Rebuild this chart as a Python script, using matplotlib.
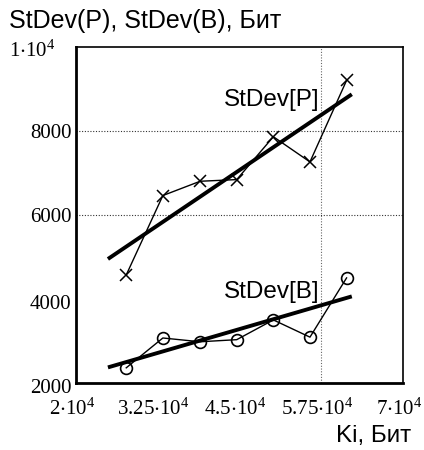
import matplotlib
matplotlib.use("Agg")
import matplotlib.pyplot as plt
from matplotlib.transforms import ScaledTranslation

# data
ki = [27700, 33300, 39000, 44600, 50200, 55800, 61400]
stdev_p = [4570, 6460, 6800, 6840, 7860, 7260, 9200]
stdev_b = [2360, 3070, 2980, 3030, 3500, 3090, 4500]

fit_x = [24900, 62200]
fit_p = [4950, 8870]
fit_b = [2370, 4060]

x_ticks = [20000, 32500, 45000, 57500, 70000]
x_ticklabels = [r"$\mathregular{2{\cdot}10^4}$", r"$\mathregular{3.25{\cdot}10^4}$",
                r"$\mathregular{4.5{\cdot}10^4}$", r"$\mathregular{5.75{\cdot}10^4}$",
                r"$\mathregular{7{\cdot}10^4}$"]
y_ticks = [2000, 4000, 6000, 8000, 10000]
y_ticklabels = ["2000", "4000", "6000", "8000", r"$\mathregular{1{\cdot}10^4}$"]

plt.rcParams["mathtext.fontset"] = "custom"
plt.rcParams["mathtext.rm"] = "Liberation Serif"
plt.rcParams["mathtext.it"] = "Liberation Serif:italic"

fig = plt.figure(figsize=(4.24, 4.5), dpi=100)
ax = fig.add_axes([0.179, 0.149, 0.771, 0.747])

ax.plot(ki, stdev_p, color="black", lw=1.0, marker="x", ms=9, mew=1.1)
ax.plot(ki, stdev_b, color="black", lw=1.0, marker="o", ms=8.5, mew=1.2,
        mfc="none")
ax.plot(fit_x, fit_p, color="black", lw=2.8, solid_capstyle="butt")
ax.plot(fit_x, fit_b, color="black", lw=2.8, solid_capstyle="butt")

# dotted grid lines as in the original
for yv in [6000, 8000]:
    ax.axhline(yv, color="black", lw=0.8, ls=(0, (1, 1.5)), alpha=0.8)
ax.axvline(57500, color="black", lw=0.8, ls=(0, (1, 1.5)), alpha=0.6)

ax.set_xlim(20000, 70000)
ax.set_ylim(2000, 10000)
ax.set_xticks(x_ticks)
ax.set_xticklabels(x_ticklabels)
ax.set_yticks(y_ticks)
ax.set_yticklabels(y_ticklabels)
ax.tick_params(length=0, labelsize=15)
ax.tick_params(axis="x", pad=11)
ax.tick_params(axis="y", pad=3)
for lbl in ax.get_yticklabels() + ax.get_xticklabels():
    lbl.set_family("Liberation Serif")
for lbl in ax.get_xticklabels():
    lbl.set_transform(lbl.get_transform() +
                      ScaledTranslation(-0.04, 0, fig.dpi_scale_trans))
for lbl in ax.get_yticklabels()[:2]:
    lbl.set_transform(lbl.get_transform() +
                      ScaledTranslation(0, -0.035, fig.dpi_scale_trans))
# the top label sits further left, as in the original
top = ax.get_yticklabels()[-1]
top.set_transform(top.get_transform() +
                  ScaledTranslation(-0.16, -0.02, fig.dpi_scale_trans))

for side in ["left", "bottom"]:
    ax.spines[side].set_linewidth(2.0)
for side in ["top", "right"]:
    ax.spines[side].set_linewidth(1.2)

ax.text(57300, 8740, "StDev[P]", ha="right", va="center", fontsize=17.5,
        family="Liberation Sans")
ax.text(57300, 4170, "StDev[B]", ha="right", va="center", fontsize=17.5,
        family="Liberation Sans")

fig.text(9 / 424, 1 - 21 / 450, "StDev(P), StDev(B), Бит", ha="left",
         va="center", fontsize=18, family="Liberation Sans")
fig.text(411 / 424, 1 - 436 / 450, "Ki, Бит", ha="right", va="center",
         fontsize=17.5, family="Liberation Sans")

fig.savefig("out.png", dpi=100, facecolor="white")
